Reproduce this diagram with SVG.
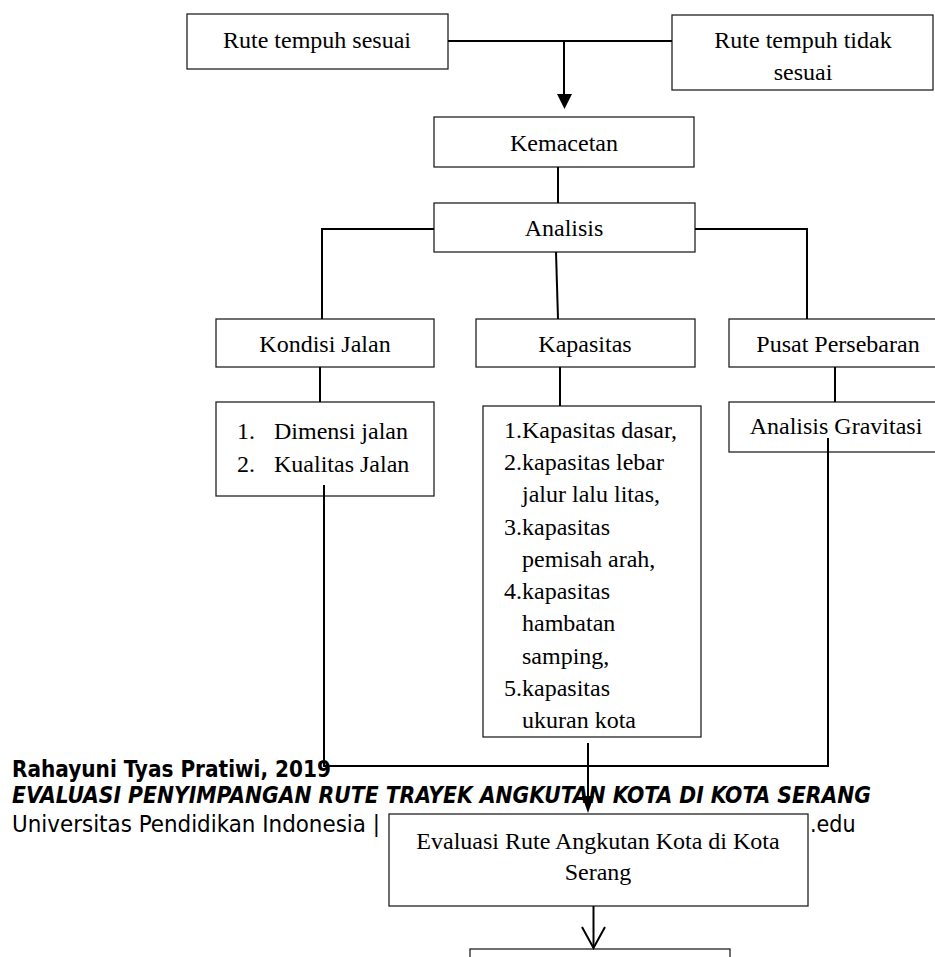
<svg xmlns="http://www.w3.org/2000/svg" width="935" height="957" viewBox="0 0 935 957">
<defs>
<style>
.box{fill:#fff;stroke:#222;stroke-width:1.3}
.t{font-family:"Liberation Serif","Times New Roman",serif;font-size:24px;fill:#000}
.c{text-anchor:middle}
.ln{fill:none;stroke:#000;stroke-width:2}
.ft{font-family:"DejaVu Sans Condensed","DejaVu Sans",sans-serif;font-size:23px;fill:#000}
</style>
</defs>
<rect width="935" height="957" fill="#fff"/>

<g id="footer">
<text class="ft" x="12" y="777" font-weight="bold" textLength="319" lengthAdjust="spacingAndGlyphs">Rahayuni Tyas Pratiwi, 2019</text>
<text class="ft" x="12" y="803" font-weight="bold" font-style="italic" textLength="859" lengthAdjust="spacingAndGlyphs">EVALUASI PENYIMPANGAN RUTE TRAYEK ANGKUTAN KOTA DI KOTA SERANG</text>
<text class="ft" x="12" y="832" textLength="368" lengthAdjust="spacingAndGlyphs">Universitas Pendidikan Indonesia |</text>
<text class="ft" x="810" y="832">.edu</text>
</g>

<g id="n-rute-sesuai">
<rect class="box" x="187" y="14" width="261" height="55"/>
<text class="t c" x="317" y="48">Rute tempuh sesuai</text>
</g>
<g id="n-rute-tidak">
<rect class="box" x="672" y="15" width="261" height="75"/>
<text class="t c" x="803" y="48">Rute tempuh tidak</text>
<text class="t c" x="803" y="80">sesuai</text>
</g>
<g id="n-kemacetan">
<rect class="box" x="434" y="117" width="260" height="50"/>
<text class="t c" x="564" y="151">Kemacetan</text>
</g>
<g id="n-analisis">
<rect class="box" x="434" y="203" width="261" height="49"/>
<text class="t c" x="564" y="236">Analisis</text>
</g>
<g id="n-kondisi">
<rect class="box" x="216" y="319" width="218" height="48"/>
<text class="t c" x="325" y="352">Kondisi Jalan</text>
</g>
<g id="n-kapasitas">
<rect class="box" x="476" y="319" width="219" height="48"/>
<text class="t c" x="585" y="352">Kapasitas</text>
</g>
<g id="n-pusat">
<rect class="box" x="729" y="319" width="216" height="48"/>
<text class="t c" x="838" y="352">Pusat Persebaran</text>
</g>
<g id="n-kondisi-list">
<rect class="box" x="216" y="402" width="218" height="94"/>
<text class="t" x="237" y="439">1.</text>
<text class="t" x="274" y="439">Dimensi jalan</text>
<text class="t" x="237" y="472">2.</text>
<text class="t" x="274" y="472">Kualitas Jalan</text>
</g>
<g id="n-kapasitas-list">
<rect class="box" x="483" y="406" width="218" height="331"/>
<text class="t" x="504" y="438">1.Kapasitas dasar,</text>
<text class="t" x="504" y="470">2.kapasitas lebar</text>
<text class="t" x="522" y="502">jalur lalu litas,</text>
<text class="t" x="504" y="535">3.kapasitas</text>
<text class="t" x="522" y="567">pemisah arah,</text>
<text class="t" x="504" y="599">4.kapasitas</text>
<text class="t" x="522" y="631">hambatan</text>
<text class="t" x="522" y="664">samping,</text>
<text class="t" x="504" y="696">5.kapasitas</text>
<text class="t" x="522" y="728">ukuran kota</text>
</g>
<g id="n-gravitasi">
<rect class="box" x="729" y="402" width="216" height="50"/>
<text class="t c" x="836" y="434">Analisis Gravitasi</text>
</g>
<g id="n-evaluasi">
<rect class="box" x="389" y="814" width="419" height="92"/>
<text class="t c" x="598" y="849" font-size="23">Evaluasi Rute Angkutan Kota di Kota</text>
<text class="t c" x="598" y="880" font-size="23">Serang</text>
</g>
<g id="n-bottom">
<rect class="box" x="470" y="949" width="260" height="30"/>
</g>

<g id="connectors">
<path class="ln" d="M448 41H672"/>
<path class="ln" d="M564 41V95"/>
<path d="M557 94H572L564.5 109Z" fill="#000"/>
<path class="ln" d="M558 167V203"/>
<path class="ln" d="M434 229H322V319"/>
<path class="ln" d="M695 229H807V319"/>
<path class="ln" d="M556 252L558 319"/>
<path class="ln" d="M320 367V402"/>
<path class="ln" d="M560 367V406"/>
<path class="ln" d="M835 367V402"/>
<path class="ln" d="M324 485V766H828V438"/>
<path class="ln" d="M588 743V798"/>
<path d="M582 796H594L588 813Z" fill="#000"/>
<path class="ln" d="M593.5 906V948"/>
<path class="ln" d="M582 927L593.5 948L605 927"/>
</g>
</svg>
